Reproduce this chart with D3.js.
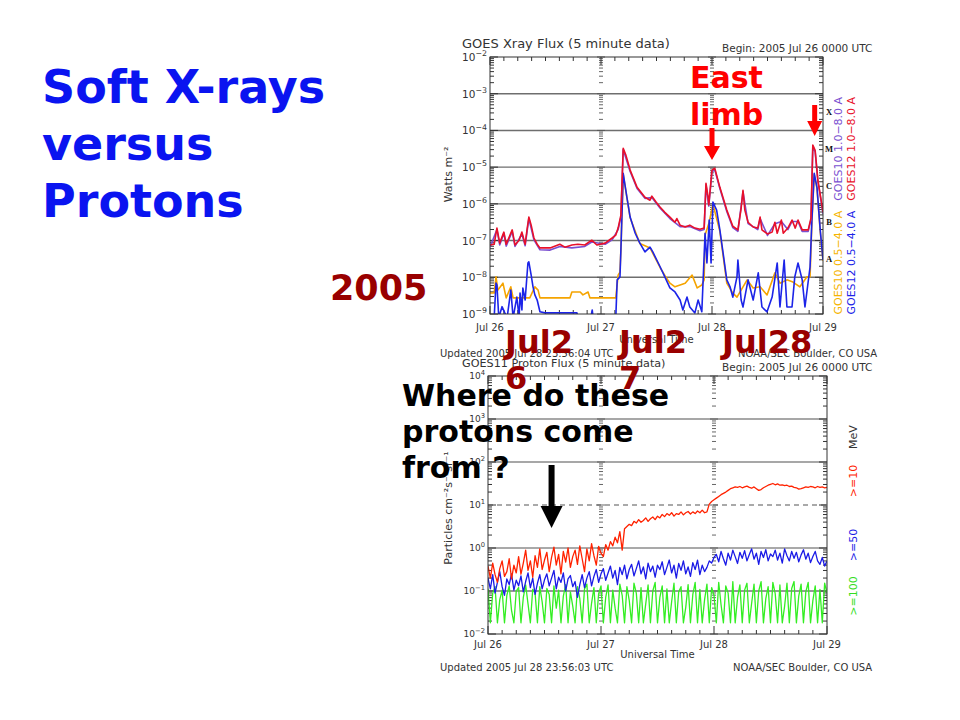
<!DOCTYPE html>
<html>
<head>
<meta charset="utf-8">
<script src="https://cdnjs.cloudflare.com/ajax/libs/d3/7.9.0/d3.min.js"></script>
<style>
  body { margin: 0; background: #fff; }
  svg { display: block; }
</style>
</head>
<body>
<script>
// ---- data ----
const dayLabels = ["Jul 26", "Jul 27", "Jul 28", "Jul 29"];
const xrayDecades = [-2, -3, -4, -5, -6, -7, -8, -9];
const protonDecades = [4, 3, 2, 1, 0, -1, -2];
const flareClasses = ["X", "M", "C", "B", "A"];
const flareClassExp = [-3.5, -4.5, -5.5, -6.5, -7.5];

// [hours since Jul 26 00 UT, log10 flux W m^-2]
const goes12Long = [[0,-7.12],[0.9,-7.10],[1.5,-6.66],[2.1,-7.07],[3.0,-6.77],[3.5,-7.10],[4.8,-6.71],[5.4,-7.12],[6.3,-6.99],[6.9,-6.77],[7.6,-7.10],[8.0,-6.71],[8.4,-6.36],[8.9,-6.58],[9.5,-6.93],[10.2,-7.10],[10.8,-7.20],[13.0,-7.20],[15.1,-7.10],[16.2,-7.18],[17.7,-7.12],[19.0,-7.10],[20.5,-7.12],[22.0,-6.99],[23.1,-7.12],[24.9,-7.07],[26.4,-6.93],[27.2,-6.85],[27.7,-6.66],[28.3,-6.31],[28.8,-4.49],[29.4,-4.68],[30.3,-5.08],[31.8,-5.55],[33.5,-5.82],[34.6,-5.90],[35.0,-5.79],[35.9,-5.95],[36.8,-6.09],[37.8,-6.23],[38.9,-6.36],[40.0,-6.50],[40.4,-6.40],[41.1,-6.58],[42.2,-6.63],[43.2,-6.58],[44.3,-6.66],[45.4,-6.69],[46.3,-6.66],[46.7,-5.44],[47.1,-5.76],[47.3,-6.03],[48.0,-5.08],[48.6,-5.03],[49.7,-5.55],[51.2,-6.17],[52.5,-6.61],[53.6,-6.71],[54.3,-6.12],[54.7,-5.63],[55.1,-6.17],[55.8,-6.50],[56.9,-6.63],[57.9,-6.66],[58.4,-6.36],[58.8,-6.71],[60.0,-6.82],[61.0,-6.77],[61.6,-6.50],[62.1,-6.80],[63.0,-6.44],[63.4,-6.80],[64.4,-6.66],[65.3,-6.44],[66.0,-6.66],[66.6,-6.44],[67.5,-6.71],[68.8,-6.71],[69.4,-6.39],[69.8,-4.40],[70.3,-4.54],[70.9,-5.36],[71.6,-5.90],[72.0,-6.23]];
const goes10Long = [[0,-7.18],[1.5,-6.70],[2.1,-7.12],[3.0,-6.80],[3.5,-7.15],[4.8,-6.75],[5.4,-7.16],[6.9,-6.82],[7.6,-7.14],[8.4,-6.40],[9.5,-6.98],[10.8,-7.25],[13,-7.26],[15.1,-7.16],[17.7,-7.20],[20.5,-7.16],[22,-7.04],[24.9,-7.10],[26.4,-6.98],[27.7,-6.70],[28.3,-6.36],[28.8,-4.52],[30.3,-5.12],[31.8,-5.58],[33.5,-5.85],[35,-5.83],[36.8,-6.12],[38.9,-6.40],[41.1,-6.62],[43.2,-6.62],[45.4,-6.73],[46.3,-6.70],[46.7,-5.48],[47.3,-6.06],[48,-5.12],[48.6,-5.07],[49.7,-5.58],[51.2,-6.21],[52.5,-6.65],[53.6,-6.75],[54.7,-5.67],[55.8,-6.54],[57.9,-6.70],[58.4,-6.40],[60,-6.86],[61.6,-6.54],[63,-6.48],[64.4,-6.70],[65.3,-6.48],[66.6,-6.48],[67.5,-6.75],[68.8,-6.75],[69.4,-6.43],[69.8,-4.44],[70.3,-4.58],[70.9,-5.40],[71.6,-5.94],[72,-6.27]];
const goes12Short = [[0,-9.10],[0.9,-9.10],[1.3,-8.16],[1.5,-8.21],[1.9,-9.10],[2.6,-8.80],[3.2,-8.97],[3.7,-9.10],[4.5,-8.35],[5.0,-9.10],[5.8,-8.54],[6.3,-9.10],[6.5,-8.43],[6.9,-8.89],[7.1,-8.29],[7.6,-8.62],[8.2,-7.61],[8.4,-7.58],[8.9,-7.94],[9.3,-8.26],[9.7,-8.48],[10.2,-8.62],[10.8,-8.94],[11.9,-8.97],[15.1,-8.97],[18.8,-8.97],[19.0,-9.10],[21.8,-9.10],[22.1,-8.89],[22.3,-9.10],[27.2,-9.10],[27.5,-8.07],[28.1,-7.99],[28.3,-7.26],[28.8,-5.17],[29.6,-5.82],[30.3,-6.36],[31.4,-6.80],[32.4,-7.07],[33.5,-7.31],[34.6,-7.18],[35.2,-7.31],[36.8,-7.72],[37.8,-7.99],[38.9,-8.29],[40.0,-8.40],[41.1,-8.62],[41.7,-8.89],[42.6,-8.54],[43.2,-8.81],[44.3,-8.97],[45.0,-8.62],[45.8,-8.94],[46.5,-6.80],[46.9,-7.61],[47.4,-6.44],[47.8,-7.61],[48.2,-5.95],[49.0,-6.17],[49.7,-6.71],[50.4,-7.34],[51.2,-8.07],[51.9,-8.26],[52.5,-8.54],[53.4,-7.99],[53.6,-7.53],[54.3,-8.62],[54.7,-8.81],[55.8,-8.07],[56.9,-8.62],[58.0,-7.88],[58.8,-8.81],[59.9,-8.94],[61.0,-8.54],[62.1,-7.61],[62.7,-8.81],[63.6,-7.53],[64.2,-8.81],[65.3,-8.81],[65.9,-7.99],[66.6,-7.61],[67.5,-8.07],[68.1,-8.81],[69.2,-7.72],[69.6,-6.44],[70.1,-5.17],[70.7,-5.55],[71.4,-6.71],[72.0,-7.53]];
const goes10Short = [[0,-8.43],[0.9,-8.43],[1.3,-7.99],[1.7,-8.35],[2.8,-8.16],[3.5,-8.56],[4.5,-8.26],[5.0,-8.56],[8.6,-8.56],[9.7,-8.26],[10.4,-8.35],[10.8,-8.56],[17.3,-8.56],[17.7,-8.40],[19.5,-8.40],[20.1,-8.48],[21.2,-8.40],[21.6,-8.56],[27.2,-8.56],[27.7,-7.94],[28.1,-7.86],[28.3,-7.26],[28.8,-5.20],[30.3,-6.38],[32.4,-7.08],[34.6,-7.20],[36.8,-7.74],[37.8,-7.95],[38.9,-8.16],[40.0,-8.26],[41.1,-8.21],[42.2,-8.16],[43.7,-7.94],[44.8,-8.29],[45.8,-8.21],[46.3,-8.07],[46.5,-6.85],[47.4,-6.50],[48.2,-6.00],[49.7,-6.75],[51.2,-8.16],[52.5,-8.43],[53.4,-8.54],[55.6,-8.07],[56.9,-8.29],[58.4,-8.26],[59.9,-8.48],[61.6,-7.88],[62.7,-8.16],[64.2,-8.07],[65.5,-8.13],[67.0,-8.26],[68.5,-7.99],[69.2,-7.99],[69.6,-6.50],[70.1,-5.20],[70.7,-5.58],[71.4,-6.75],[72,-7.55]];

// proton flux, log10 particles cm^-2 s^-1 sr^-1, one value every 30 min from Jul 26 00 UT
const protonStepHours = 0.5;
const proton10 = [-0.42,-0.70,-0.35,-0.62,-0.80,-0.48,-0.30,-0.66,-0.55,-0.25,-0.72,-0.40,-0.58,
  -0.20,-0.61,-0.35,-0.05,-0.52,-0.30,-0.68,-0.18,-0.45,-0.02,-0.50,-0.28,
  -0.10,-0.55,-0.22,0.02,-0.40,-0.15,-0.60,-0.08,-0.33,0.00,-0.45,-0.20,
  -0.05,-0.38,0.05,-0.25,-0.55,-0.02,-0.30,0.10,-0.18,-0.40,0.04,-0.12,
  -0.20,0.08,-0.05,0.15,0.05,0.25,0.12,0.38,-0.05,0.45,0.50,0.55,
  0.52,0.62,0.58,0.66,0.60,0.64,0.70,0.62,0.68,0.72,0.66,0.74,
  0.70,0.78,0.73,0.80,0.76,0.82,0.74,0.80,0.78,0.84,0.77,0.82,
  0.85,0.79,0.84,0.80,0.86,0.82,0.88,0.82,0.84,1.02,1.08,1.12,
  1.16,1.20,1.24,1.27,1.30,1.34,1.38,1.40,1.42,1.41,1.43,1.40,
  1.42,1.44,1.41,1.39,1.42,1.38,1.34,1.36,1.40,1.43,1.46,1.48,
  1.50,1.47,1.49,1.46,1.47,1.45,1.46,1.43,1.44,1.41,1.40,1.37,
  1.38,1.40,1.42,1.41,1.43,1.42,1.40,1.43,1.41,1.42,1.40,1.41];
const proton50 = [-0.70,-0.95,-0.62,-1.05,-0.80,-0.55,-0.90,-1.10,-0.72,-0.85,-0.60,-0.98,-0.75,
  -0.88,-0.65,-1.02,-0.78,-0.58,-0.92,-0.70,-1.08,-0.82,-0.62,-0.95,-0.74,
  -0.60,-0.88,-0.70,-0.52,-0.95,-0.68,-0.80,-0.58,-1.00,-0.72,-0.64,-0.90,
  -0.78,-1.15,-0.85,-0.62,-0.92,-0.70,-0.55,-0.88,-0.66,-0.50,-0.80,-0.60,
  -0.48,-0.75,-0.58,-0.42,-0.70,-0.52,-0.85,-0.45,-0.62,-0.40,-0.72,-0.50,
  -0.38,-0.65,-0.48,-0.30,-0.60,-0.44,-0.72,-0.35,-0.55,-0.42,-0.68,-0.40,
  -0.50,-0.32,-0.62,-0.45,-0.28,-0.58,-0.40,-0.70,-0.36,-0.52,-0.30,-0.60,
  -0.44,-0.66,-0.34,-0.50,-0.28,-0.62,-0.40,-0.55,-0.45,-0.30,-0.35,-0.22,
  -0.15,-0.32,-0.08,-0.25,-0.40,-0.12,-0.28,-0.05,-0.20,-0.36,-0.10,-0.24,
  -0.06,-0.30,-0.15,-0.02,-0.26,-0.12,-0.38,-0.08,-0.22,-0.04,-0.30,-0.14,
  -0.20,-0.05,-0.28,-0.12,-0.35,-0.02,-0.18,-0.30,-0.08,-0.24,-0.10,-0.32,
  -0.16,-0.04,-0.26,-0.12,-0.34,-0.20,-0.08,-0.30,-0.38,-0.22,-0.42,-0.30];
const proton100 = [-0.95,-1.74,-1.05,-0.90,-1.74,-1.20,-0.98,-1.74,-1.10,-0.88,-1.45,-1.74,-1.00,
  -0.92,-1.74,-1.15,-0.86,-1.30,-1.74,-0.96,-1.05,-1.74,-0.90,-1.25,-1.74,
  -0.94,-1.08,-1.74,-0.88,-1.40,-0.98,-1.74,-1.12,-0.85,-1.74,-1.02,-1.35,
  -1.74,-0.90,-1.18,-1.74,-0.95,-0.84,-1.74,-1.28,-0.92,-1.74,-1.06,-0.88,
  -1.74,-1.15,-0.86,-1.74,-0.98,-1.40,-1.74,-0.84,-1.10,-1.74,-0.90,-1.22,
  -1.74,-0.82,-1.05,-1.74,-0.92,-1.74,-1.30,-0.86,-1.74,-1.00,-0.80,-1.74,
  -1.15,-0.88,-1.74,-0.95,-1.74,-1.25,-0.82,-1.74,-1.02,-0.90,-1.74,-1.38,
  -0.85,-1.74,-1.08,-0.80,-1.74,-0.96,-1.74,-1.20,-0.84,-1.74,-0.92,-1.10,
  -1.74,-0.80,-1.32,-1.74,-0.88,-1.05,-1.74,-0.78,-1.74,-1.15,-0.86,-1.74,
  -0.98,-0.82,-1.74,-1.28,-0.84,-1.74,-1.00,-0.78,-1.74,-1.18,-0.90,-1.74,
  -0.80,-1.06,-1.74,-0.86,-1.74,-1.35,-0.82,-1.74,-0.94,-0.78,-1.74,-1.12,
  -0.84,-1.74,-1.02,-0.80,-1.74,-1.22,-0.88,-1.74,-0.96,-1.74,-0.82,-1.05];

// ---- setup ----
const svg = d3.select("body").append("svg").attr("width", 960).attr("height", 720);
const cf = "DejaVu Sans";
const ink = "#333";

function drawPanel(o) {
  const g = svg.append("g");
  const [x0, x1] = o.x.range(), [y0, y1] = o.y.range(); // y0 bottom, y1 top
  const id = o.id;

  // grid lines at decades
  o.grid.forEach(gl => {
    g.append("line").attr("x1", x0).attr("x2", x1)
      .attr("y1", o.y(10 ** gl.e)).attr("y2", o.y(10 ** gl.e))
      .attr("stroke", gl.c).attr("stroke-width", gl.w)
      .attr("stroke-dasharray", gl.dash || null);
  });

  // log ticks on left/right and at day boundaries
  const yt = o.y.ticks();
  yt.forEach(v => {
    const major = Math.abs(Math.log10(v) - Math.round(Math.log10(v))) < 1e-6;
    const L = major ? 8 : 4;
    const yy = o.y(v);
    g.append("line").attr("x1", x0).attr("x2", x0 + L).attr("y1", yy).attr("y2", yy).attr("stroke", ink);
    g.append("line").attr("x1", x1).attr("x2", x1 - L).attr("y1", yy).attr("y2", yy).attr("stroke", ink);
    [24, 48].forEach(h => {
      const xx = o.x(h);
      g.append("line").attr("x1", xx - L / 2).attr("x2", xx + L / 2).attr("y1", yy).attr("y2", yy)
        .attr("stroke", "#555").attr("stroke-width", 0.9);
    });
  });

  // time ticks, every 3 h
  d3.range(0, 73, 3).forEach(h => {
    const L = h % 24 === 0 ? 8 : 4;
    const xx = o.x(h);
    g.append("line").attr("x1", xx).attr("x2", xx).attr("y1", y0).attr("y2", y0 - L).attr("stroke", ink);
    g.append("line").attr("x1", xx).attr("x2", xx).attr("y1", y1).attr("y2", y1 + L).attr("stroke", ink);
  });

  // series
  g.append("clipPath").attr("id", id).append("rect")
    .attr("x", x0).attr("y", y1).attr("width", x1 - x0).attr("height", y0 - y1);
  const line = d3.line().x(d => o.x(d[0])).y(d => o.y(10 ** d[1]));
  o.series.forEach(s => {
    g.append("path").datum(s.data).attr("d", line).attr("fill", "none")
      .attr("stroke", s.color).attr("stroke-width", s.w).attr("stroke-linejoin", "round")
      .attr("clip-path", `url(#${id})`);
  });

  // frame
  g.append("rect").attr("x", x0).attr("y", y1).attr("width", x1 - x0).attr("height", y0 - y1)
    .attr("fill", "none").attr("stroke", ink).attr("stroke-width", 1);

  // decade labels
  o.decades.forEach(e => {
    const t = g.append("text").attr("x", x0 - 3).attr("y", o.y(10 ** e) + o.labelDy)
      .attr("text-anchor", "end").attr("font-family", cf).attr("font-size", o.labelSize).attr("fill", ink);
    t.append("tspan").text("10");
    t.append("tspan").attr("dy", -o.labelSize * 0.45).attr("font-size", o.labelSize * 0.75)
      .text(e < 0 ? "\u2212" + (-e) : String(e));
  });

  // day labels
  dayLabels.forEach((d, i) => {
    g.append("text").attr("x", o.x(i * 24)).attr("y", y0 + o.dayDy).attr("text-anchor", "middle")
      .attr("font-family", cf).attr("font-size", 10).attr("fill", ink).text(d);
  });
  g.append("text").attr("x", (x0 + x1) / 2).attr("y", y0 + o.utDy).attr("text-anchor", "middle")
    .attr("font-family", cf).attr("font-size", 10).attr("fill", ink).text("Universal Time");
  return g;
}

function txt(x, y, s, size, color, opts = {}) {
  const t = svg.append("text").attr("x", x).attr("y", y).attr("font-family", opts.font || cf)
    .attr("font-size", size).attr("fill", color).attr("text-anchor", opts.anchor || "start")
    .attr("font-weight", opts.bold ? "bold" : null);
  if (opts.rot) t.attr("transform", `rotate(-90 ${x} ${y})`);
  t.text(s);
  return t;
}

// ---- X-ray panel ----
const xrX = d3.scaleLinear().domain([0, 72]).range([490, 823]);
const xrY = d3.scaleLog().domain([1e-9, 1e-2]).range([314, 57]);
drawPanel({
  id: "clipX", x: xrX, y: xrY, decades: xrayDecades, labelSize: 10.5, labelDy: 4,
  dayDy: 17, utDy: 29,
  grid: [-3, -4, -5, -6, -7, -8].map(e => ({ e, c: "#6e6e6e", w: 1.4 })),
  series: [
    { data: goes10Short, color: "#f5a400", w: 1.6 },
    { data: goes12Short, color: "#1c24e8", w: 1.6 },
    { data: goes10Long, color: "#7a4fd0", w: 1.6 },
    { data: goes12Long, color: "#e8102a", w: 1.6 }
  ]
});
txt(462, 48, "GOES Xray Flux (5 minute data)", 13, ink);
txt(722, 52, "Begin:  2005 Jul 26 0000 UTC", 10.5, ink);
txt(452, xrY(10 ** -5.2), "Watts m\u207B\u00B2", 11, ink, { rot: true, anchor: "middle" });
flareClasses.forEach((c, i) => {
  txt(829, xrY(10 ** flareClassExp[i]) + 3, c, 8.5, "#111", { font: "Liberation Serif", bold: true, anchor: "middle" });
});
txt(842, xrY(10 ** -4.5), "GOES10 1.0\u22128.0 A", 11, "#7a4fd0", { rot: true, anchor: "middle" });
txt(855, xrY(10 ** -4.5), "GOES12 1.0\u22128.0 A", 11, "#e8102a", { rot: true, anchor: "middle" });
txt(842, xrY(10 ** -7.6), "GOES10 0.5\u22124.0 A", 11, "#f5b400", { rot: true, anchor: "middle" });
txt(855, xrY(10 ** -7.6), "GOES12 0.5\u22124.0 A", 11, "#1c24e8", { rot: true, anchor: "middle" });
txt(440, 357, "Updated 2005 Jul 28 23:56:04 UTC", 10, ink);
txt(738, 357, "NOAA/SEC Boulder, CO USA", 10, ink);

// ---- proton panel ----
const pX = d3.scaleLinear().domain([0, 72]).range([488, 827]);
const pY = d3.scaleLog().domain([1e-2, 1e4]).range([634, 376]);
const toPairs = arr => arr.map((v, i) => [i * protonStepHours, v]);
drawPanel({
  id: "clipP", x: pX, y: pY, decades: protonDecades, labelSize: 9, labelDy: 3,
  dayDy: 14, utDy: 24,
  grid: [
    { e: 3, c: "#8a8a8a", w: 1.5 }, { e: 2, c: "#8a8a8a", w: 1.5 },
    { e: 1, c: "#555", w: 1.1, dash: "5,4" },
    { e: 0, c: "#555", w: 1.2 }, { e: -1, c: "#333", w: 1.2 }
  ],
  series: [
    { data: toPairs(proton100), color: "#33ee22", w: 1.3 },
    { data: toPairs(proton50), color: "#1a1ae6", w: 1.3 },
    { data: toPairs(proton10), color: "#ff2200", w: 1.3 }
  ]
});
txt(462, 367, "GOES11 Proton Flux (5 minute data)", 11.2, ink);
txt(722, 371, "Begin: 2005 Jul 26 0000 UTC", 10.5, ink);
txt(452, 508, "Particles cm\u207B\u00B2s\u207B\u00B9sr\u207B\u00B9", 11, ink, { rot: true, anchor: "middle" });
txt(857, 437, "MeV", 11, ink, { rot: true, anchor: "middle" });
txt(857, 481, ">=10", 11, "#ff2200", { rot: true, anchor: "middle" });
txt(857, 545, ">=50", 11, "#1a1ae6", { rot: true, anchor: "middle" });
txt(857, 596, ">=100", 11, "#33dd22", { rot: true, anchor: "middle" });
txt(440, 671, "Updated 2005 Jul 28 23:56:03 UTC", 10, ink);
txt(733, 671, "NOAA/SEC Boulder, CO USA", 10, ink);

// ---- slide annotations ----
const blue = "#0a14f0", darkRed = "#990000";
["Soft X-rays", "versus", "Protons"].forEach((s, i) => txt(42, 103 + i * 57, s, 46, blue, { bold: true }));
txt(330, 300, "2005", 35, darkRed, { bold: true });
txt(505, 353, "Jul2", 32, darkRed, { bold: true });
txt(505, 389, "6", 32, darkRed, { bold: true });
txt(619, 353, "Jul2", 32, darkRed, { bold: true });
txt(619, 389, "7", 32, darkRed, { bold: true });
txt(722, 353, "Jul28", 32, darkRed, { bold: true });
txt(690, 88, "East", 30, "#ff0000", { bold: true });
txt(690, 125, "limb", 30, "#ff0000", { bold: true });
["Where do these", "protons come", "from ?"].forEach((s, i) => txt(402, 406 + i * 36, s, 30, "#000", { bold: true }));

function arrow(cx, yTop, yTip, shaftW, headW, headH, color) {
  const p = d3.path();
  p.moveTo(cx - shaftW / 2, yTop);
  p.lineTo(cx + shaftW / 2, yTop);
  p.lineTo(cx + shaftW / 2, yTip - headH);
  p.lineTo(cx + headW / 2, yTip - headH);
  p.lineTo(cx, yTip);
  p.lineTo(cx - headW / 2, yTip - headH);
  p.lineTo(cx - shaftW / 2, yTip - headH);
  p.closePath();
  svg.append("path").attr("d", p.toString()).attr("fill", color);
}
arrow(xrX(48), 128, 160, 5, 16, 14, "#ff0000");
arrow(xrX(70.2), 105, 136, 5, 15, 15, "#ff0000");
arrow(pX(13.5), 465, 528, 6, 22, 22, "#000");
</script>
</body>
</html>
